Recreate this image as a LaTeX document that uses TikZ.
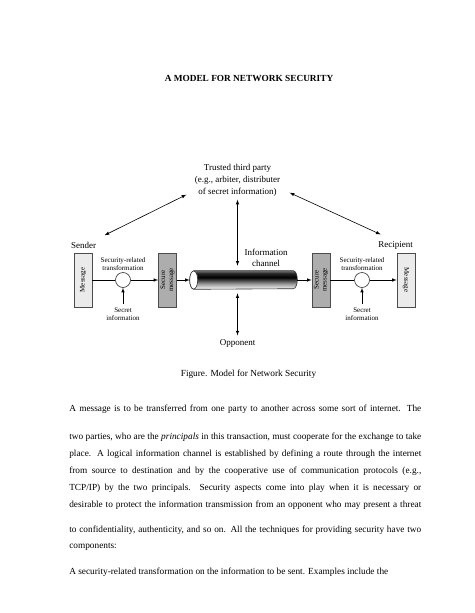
\documentclass[tikz,border=0pt]{standalone}
\usepackage{fontspec}
\setmainfont{Liberation Serif}
\usetikzlibrary{shapes,arrows,positioning,calc}

\pgfdeclareverticalshading{chanshade}{100bp}{color(0bp)=(white); color(25bp)=(white); color(40bp)=(black!40); color(57bp)=(black); color(68bp)=(black!85); color(75bp)=(black!55); color(100bp)=(black!55)}

\newcommand{\vlabel}[2][90]{\rotatebox{#1}{\fontsize{7}{8}\selectfont\begin{tabular}{@{}c@{}}#2\end{tabular}}}
\newcommand{\justline}[1]{\makebox[352pt][s]{#1}}

\begin{document}
\begin{tikzpicture}[
    x=1pt, y=1pt,
    line width=0.6pt,
    every node/.style={font=\fontsize{9}{11}\selectfont},
    msgbox/.style={draw=black!70, fill=black!8, minimum width=18pt, minimum height=54pt, inner sep=0pt},
    securebox/.style={msgbox, fill=black!32},
    xform/.style={draw=black!80, circle, fill=white, minimum size=15pt, inner sep=0pt},
    note/.style={font=\fontsize{7}{8}\selectfont, align=center},
    bodyline/.style={anchor=west, inner sep=0pt, font=\fontsize{9.3}{11}\selectfont}
]
\useasboundingbox (0,0) rectangle (474,-613);

% Heading
\node[font=\fontsize{9.3}{11}\selectfont\bfseries] (title) at (249,-78) {A MODEL FOR NETWORK SECURITY};

% Trusted third party
\node[align=center, font=\fontsize{9}{12}\selectfont] (trusted) at (237.5,-180) {Trusted third party\\(e.g., arbiter, distributer\\of secret information)};

% Principals
\node (sender) at (83.5,-245) {Sender};
\node (recipient) at (395.5,-245) {Recipient};

% Sender side
\node[msgbox] (msgL) at (83,-280) {\vlabel{Message}};
\node[xform] (xformL) at (123,-280) {};
\node[securebox] (secL) at (167.5,-280) {\vlabel{Secure\\message}};
\node[note] (xlabelL) at (123,-264) {Security-related\\transformation};
\node[note] (keyL) at (123,-314) {Secret\\information};

% Information channel
\node[minimum width=107pt, minimum height=18pt, inner sep=0pt] (chan) at (243.5,-280) {};
\node[align=center] (chanlabel) at (266,-258) {Information\\channel};
\shade[shading=chanshade, draw=black!80] ([xshift=4pt]chan.north west) -- ([xshift=-4pt]chan.north east)
    arc[start angle=90, end angle=-90, x radius=4pt, y radius=9pt] -- ([xshift=4pt]chan.south west)
    arc[start angle=270, end angle=90, x radius=4pt, y radius=9pt] -- cycle;
\draw[fill=white, draw=black!80] ([xshift=4pt]chan.west) ellipse[x radius=4pt, y radius=9pt];

% Recipient side
\node[securebox] (secR) at (321,-280) {\vlabel{Secure\\message}};
\node[xform] (xformR) at (362,-280) {};
\node[msgbox] (msgR) at (406,-280) {\vlabel[-90]{Message}};
\node[note] (xlabelR) at (362,-264) {Security-related\\transformation};
\node[note] (keyR) at (362,-314) {Secret\\information};

% Opponent
\node (opp) at (237.5,-343) {Opponent};

% Connections
\draw (msgL) -- (xformL);
\draw[-latex] (xformL) -- (secL);
\draw[-latex] (secL) -- (chan);
\draw[-latex] (chan) -- (secR);
\draw (secR) -- (xformR);
\draw[-latex] (xformR) -- (msgR);
\draw[-latex] (keyL) -- (xformL);
\draw[-latex] (keyR) -- (xformR);
\draw[latex-latex] (trusted.south) -- ([yshift=5pt]trusted.south |- chan.north);
\draw[latex-latex] ([yshift=-4pt]opp.north |- chan.south) -- (opp.north);
\draw[latex-latex] ([shift={(-5,5)}]trusted.south west) -- ([shift={(5,3)}]sender.north east);
\draw[latex-latex] ([shift={(6,7)}]trusted.south east) -- ([shift={(6,3)}]recipient.north west);

% Caption and text
\node[font=\fontsize{9.3}{11}\selectfont] (caption) at (248.5,-374) {Figure. Model for Network Security};
\node[bodyline] (para1) at (69,-409) {\justline{A message is to be transferred from one party to another across some sort of internet. The}};
\node[bodyline] (para2) at (69,-437) {\justline{two parties, who are the \textit{principals} in this transaction, must cooperate for the exchange to take}};
\node[bodyline] (para3) at (69,-454) {\justline{place. A logical information channel is established by defining a route through the internet}};
\node[bodyline] (para4) at (69,-471) {\justline{from source to destination and by the cooperative use of communication protocols (e.g.,}};
\node[bodyline] (para5) at (69,-488) {\justline{TCP/IP) by the two principals. Security aspects come into play when it is necessary or}};
\node[bodyline] (para6) at (69,-505) {\justline{desirable to protect the information transmission from an opponent who may present a threat}};
\node[bodyline] (para7) at (69,-530) {\justline{to confidentiality, authenticity, and so on. All the techniques for providing security have two}};
\node[bodyline] (para8) at (69,-547) {components:};
\node[bodyline] (para9) at (69,-572) {A security-related transformation on the information to be sent. Examples include the};

\end{tikzpicture}
\end{document}
